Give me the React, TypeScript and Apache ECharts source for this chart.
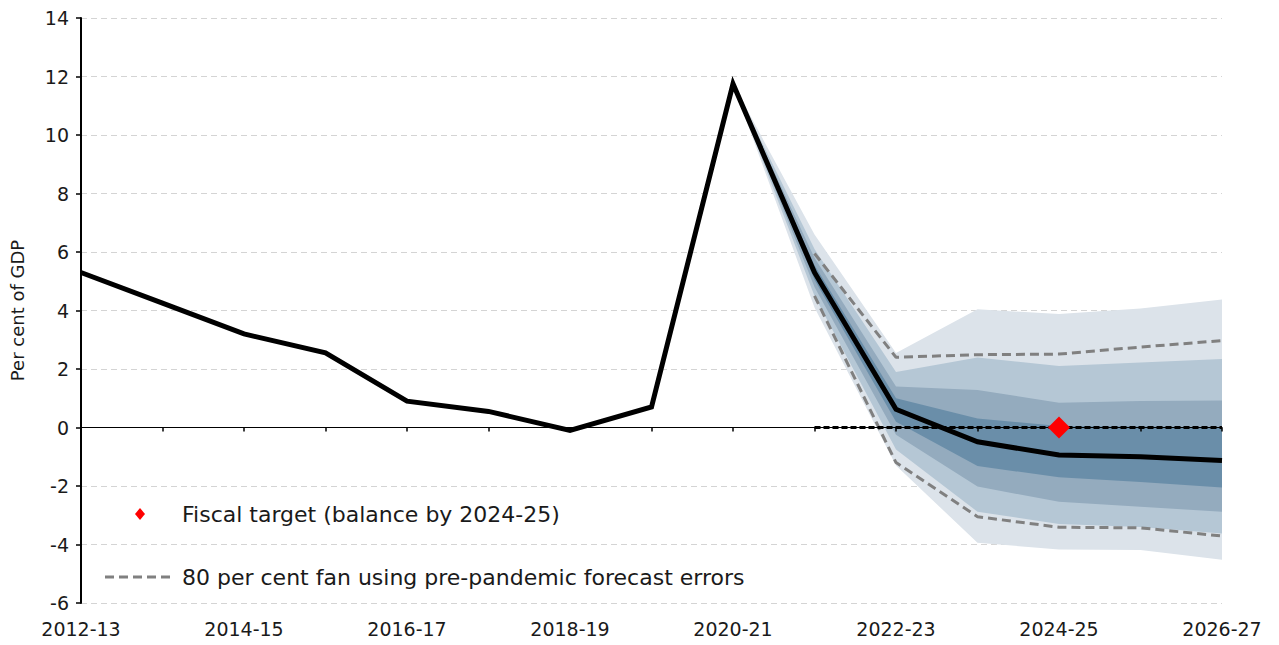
import React, { useEffect, useRef } from "react";
import * as echarts from "echarts";

const categories = [
  "2012-13", "2013-14", "2014-15", "2015-16", "2016-17", "2017-18", "2018-19", "2019-20",
  "2020-21", "2021-22", "2022-23", "2023-24", "2024-25", "2025-26", "2026-27",
];

const central = [5.3, 4.25, 3.2, 2.55, 0.9, 0.55, -0.1, 0.7, 11.75, 5.3, 0.62, -0.49, -0.94, -1.0, -1.13];

const N = null;
// Fan bands (lower / upper edges), from widest to narrowest
const band1Low = [N, N, N, N, N, N, N, N, 11.75, 4.1, -1.3, -3.94, -4.17, -4.19, -4.52];
const band1High = [N, N, N, N, N, N, N, N, 11.75, 6.6, 2.55, 4.04, 3.88, 4.07, 4.38];
const band2Low = [N, N, N, N, N, N, N, N, 11.75, 4.5, -0.75, -2.88, -3.3, -3.4, -3.62];
const band2High = [N, N, N, N, N, N, N, N, 11.75, 6.1, 1.9, 2.39, 2.1, 2.22, 2.34];
const band3Low = [N, N, N, N, N, N, N, N, 11.75, 4.8, -0.25, -2.02, -2.54, -2.71, -2.88];
const band3High = [N, N, N, N, N, N, N, N, 11.75, 5.8, 1.4, 1.28, 0.85, 0.91, 0.92];
const band4Low = [N, N, N, N, N, N, N, N, 11.75, 5.05, 0.2, -1.32, -1.7, -1.86, -2.05];
const band4High = [N, N, N, N, N, N, N, N, 11.75, 5.55, 1.0, 0.31, 0.05, 0.03, 0.0];

const prePandemicUpper = [N, N, N, N, N, N, N, N, N, 5.95, 2.4, 2.49, 2.51, 2.75, 2.97];
const prePandemicLower = [N, N, N, N, N, N, N, N, N, 4.5, -1.2, -3.05, -3.41, -3.43, -3.71];

const fiscalBalanceLine = [N, N, N, N, N, N, N, N, N, 0, 0, 0, 0, 0, 0];
const fiscalTarget = [N, N, N, N, N, N, N, N, N, N, N, N, 0, N, N];

const yTicks = { min: -6, max: 14, interval: 2 };

const bandColors = ["#dce3ea", "#b5c7d5", "#94abbe", "#6a8ea9"];

const FONT = "DejaVu Sans";

function bandSeries(low: (number | null)[], high: (number | null)[], color: string, key: string, z: number) {
  const diff = low.map((l, i) => (l === null || high[i] === null ? null : (high[i] as number) - l));
  return [
    {
      type: "line",
      stack: key,
      stackStrategy: "all",
      data: low,
      symbol: "none",
      lineStyle: { width: 0, opacity: 0 },
      silent: true,
      z,
    },
    {
      type: "line",
      stack: key,
      stackStrategy: "all",
      data: diff,
      symbol: "none",
      lineStyle: { width: 0, opacity: 0 },
      areaStyle: { color, opacity: 1 },
      silent: true,
      z,
    },
  ];
}

export default function App() {
  const ref = useRef<HTMLDivElement>(null);
  useEffect(() => {
    if (!ref.current) return;
    const chart = echarts.init(ref.current, null, { renderer: "svg" });
    const option: any = {
      animation: false,
      textStyle: { fontFamily: FONT },
      grid: { left: 80, right: 57, top: 18, bottom: 42, containLabel: false },
      xAxis: [
        {
          type: "category",
          data: categories,
          boundaryGap: false,
          position: "bottom",
          z: 10,
          axisLine: { onZero: true, lineStyle: { color: "#000", width: 1 } },
          axisTick: { show: true, interval: 0, length: 4, lineStyle: { color: "#000", width: 1.5 } },
          axisLabel: { show: false },
          splitLine: { show: false },
        },
        {
          type: "category",
          data: categories,
          boundaryGap: false,
          position: "bottom",
          axisLine: { show: false, onZero: false },
          axisTick: { show: false },
          axisLabel: { show: true, interval: 1, margin: 16, fontSize: 19, color: "#1a1a1a", fontFamily: FONT },
          splitLine: { show: false },
        },
      ],
      yAxis: {
        type: "value",
        min: yTicks.min,
        max: yTicks.max,
        interval: yTicks.interval,
        name: "Per cent of GDP",
        nameLocation: "middle",
        nameGap: 55,
        nameTextStyle: { fontSize: 18, color: "#1a1a1a", fontFamily: FONT },
        axisLine: { show: true, lineStyle: { color: "#000", width: 2 } },
        axisTick: { show: true, length: 5, lineStyle: { color: "#000", width: 1.5 } },
        axisLabel: { fontSize: 19, color: "#1a1a1a", margin: 12, fontFamily: FONT },
        splitLine: { show: true, lineStyle: { color: "#d4d4d4", type: [6, 4], width: 1 } },
      },
      series: [
        ...bandSeries(band1Low, band1High, bandColors[0], "b1", 2),
        ...bandSeries(band2Low, band2High, bandColors[1], "b2", 3),
        ...bandSeries(band3Low, band3High, bandColors[2], "b3", 4),
        ...bandSeries(band4Low, band4High, bandColors[3], "b4", 5),
        {
          type: "line",
          data: prePandemicUpper,
          symbol: "none",
          lineStyle: { color: "#808080", width: 3, type: [9, 5] },
          z: 6,
        },
        {
          type: "line",
          data: prePandemicLower,
          symbol: "none",
          lineStyle: { color: "#808080", width: 3, type: [9, 5] },
          z: 6,
        },
        {
          type: "line",
          data: fiscalBalanceLine,
          symbol: "none",
          lineStyle: { color: "#000", width: 3, type: [6, 3] },
          z: 7,
        },
        {
          type: "line",
          data: central,
          symbol: "none",
          lineStyle: { color: "#000", width: 5, join: "miter" },
          z: 8,
        },
        {
          type: "scatter",
          data: fiscalTarget,
          symbol: "diamond",
          symbolSize: [22, 22],
          itemStyle: { color: "#ff0000", opacity: 1 },
          z: 12,
        },
      ],
      graphic: [
        {
          type: "polygon",
          shape: { points: [[140, 508], [145, 514], [140, 520], [135, 514]] },
          style: { fill: "#ff0000" },
          z: 20,
        },
        {
          type: "text",
          x: 182,
          y: 514,
          style: {
            text: "Fiscal target (balance by 2024-25)",
            fontSize: 22,
            fontFamily: FONT,
            fill: "#1a1a1a",
            verticalAlign: "middle",
            align: "left",
          },
          z: 20,
        },
        {
          type: "line",
          shape: { x1: 105, y1: 577, x2: 172, y2: 577 },
          style: { stroke: "#808080", lineWidth: 3, lineDash: [9, 5] },
          z: 20,
        },
        {
          type: "text",
          x: 182,
          y: 577,
          style: {
            text: "80 per cent fan using pre-pandemic forecast errors",
            fontSize: 22,
            fontFamily: FONT,
            fill: "#1a1a1a",
            verticalAlign: "middle",
            align: "left",
          },
          z: 20,
        },
      ],
    };
    chart.setOption(option);
    return () => chart.dispose();
  }, []);
  return <div ref={ref} style={{ width: 1279, height: 645, position: "absolute", left: 0, top: 0 }} />;
}
